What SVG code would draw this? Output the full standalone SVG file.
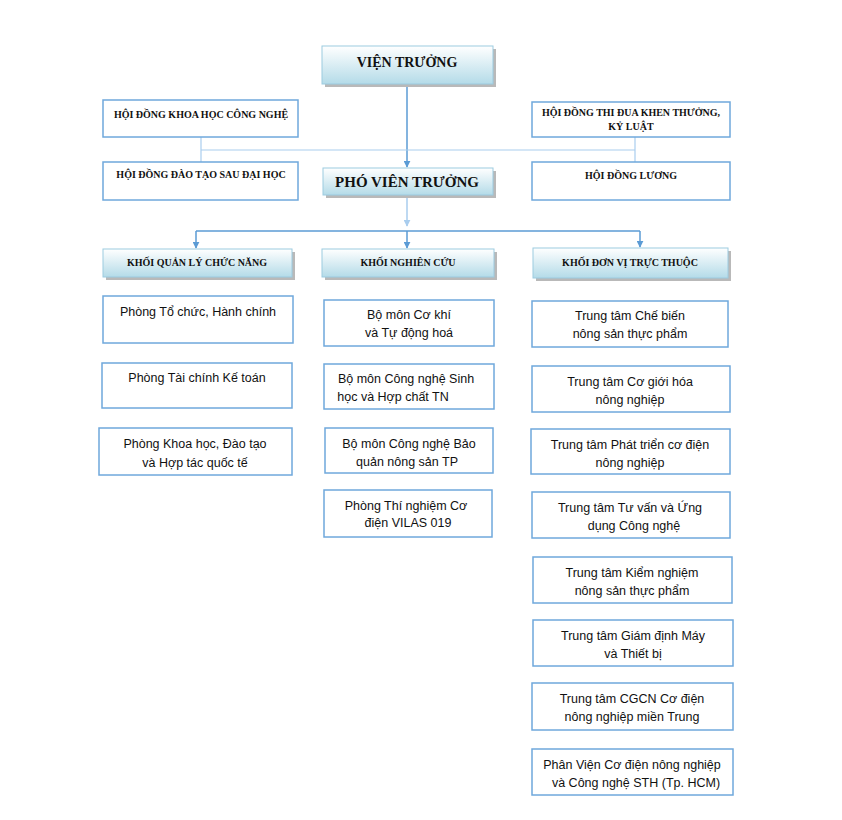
<svg xmlns="http://www.w3.org/2000/svg" width="842" height="820" viewBox="0 0 842 820">
<defs>
<linearGradient id="hg" x1="0" y1="0" x2="0" y2="1">
<stop offset="0" stop-color="#ffffff"/>
<stop offset="1" stop-color="#b4dbe8"/>
</linearGradient>
<marker id="ar" viewBox="0 0 10 10" refX="9" refY="5" markerWidth="7" markerHeight="7" orient="auto" markerUnits="userSpaceOnUse">
<path d="M0,0 L10,5 L0,10 z" fill="#5b9bd5"/>
</marker>
<marker id="arl" viewBox="0 0 10 10" refX="9" refY="5" markerWidth="7" markerHeight="7" orient="auto" markerUnits="userSpaceOnUse">
<path d="M0,0 L10,5 L0,10 z" fill="#a9cdee"/>
</marker>
</defs>
<style>
.hd{fill:url(#hg);stroke:#9ccbe0;stroke-width:1}
.sh{fill:#b9b9b9}
.bx{fill:#ffffff;stroke:#6fa8dc;stroke-width:1.5}
.ht{font-family:"Liberation Serif",serif;font-weight:bold;fill:#111;text-anchor:middle}
.bt{font-family:"Liberation Sans",sans-serif;font-size:12.5px;fill:#111;text-anchor:middle}
.ln{stroke:#5b9bd5;stroke-width:1.5;fill:none}
.ll{stroke:#a9cdee;stroke-width:1.5;fill:none}
.lp{stroke:#a9cdee;stroke-width:1.2;fill:none}
</style>
<rect width="842" height="820" fill="#ffffff"/>
<g id="connectors">
<line class="ln" x1="407" y1="84" x2="407" y2="167" marker-end="url(#ar)"/>
<line class="lp" x1="201" y1="150" x2="635" y2="150"/>
<line class="lp" x1="201" y1="137" x2="201" y2="162"/>
<line class="lp" x1="635" y1="137" x2="635" y2="162"/>
<line class="ll" x1="407" y1="196" x2="407" y2="226" marker-end="url(#arl)"/>
<line class="ln" x1="196" y1="231" x2="640" y2="231"/>
<line class="ln" x1="196" y1="231" x2="196" y2="248" marker-end="url(#ar)"/>
<line class="ln" x1="407" y1="231" x2="407" y2="248" marker-end="url(#ar)"/>
<line class="ln" x1="640" y1="231" x2="640" y2="247" marker-end="url(#ar)"/>
</g>
<g id="vien-truong">
<rect class="sh" x="325" y="49" width="171" height="38"/>
<rect class="hd" x="322" y="46" width="171" height="38"/>
<text class="ht" x="407" y="67" font-size="14">VIỆN TRƯỞNG</text>
</g>
<g id="hd-khcn">
<rect class="bx" x="103" y="100" width="195" height="37"/>
<text class="ht" x="201" y="118" font-size="10">HỘI ĐỒNG KHOA  HỌC CÔNG NGHỆ</text>
</g>
<g id="hd-daotao">
<rect class="bx" x="103" y="162" width="195" height="38"/>
<text class="ht" x="201" y="178" font-size="10">HỘI ĐỒNG ĐÀO TẠO SAU ĐẠI HỌC</text>
</g>
<g id="hd-thidua">
<rect class="bx" x="532" y="102" width="198" height="35"/>
<text class="ht" x="631" y="116" font-size="10">HỘI ĐỒNG THI ĐUA KHEN THƯỞNG,</text>
<text class="ht" x="631" y="130" font-size="10">KỶ LUẬT</text>
</g>
<g id="hd-luong">
<rect class="bx" x="532" y="162" width="198" height="38"/>
<text class="ht" x="631" y="179" font-size="10">HỘI ĐỒNG LƯƠNG</text>
</g>
<g id="pho-vien-truong">
<rect class="sh" x="326" y="171" width="170" height="27"/>
<rect class="hd" x="323" y="168" width="170" height="27"/>
<text class="ht" x="407" y="187" font-size="15">PHÓ VIÊN TRƯỞNG</text>
</g>
<g id="khoi-quanly">
<rect class="sh" x="106" y="252" width="189" height="28"/>
<rect class="hd" x="103" y="249" width="189" height="28"/>
<text class="ht" x="197" y="266" font-size="10">KHỐI QUẢN LÝ CHỨC NĂNG</text>
</g>
<g id="khoi-nghiencuu">
<rect class="sh" x="325" y="252" width="172" height="28"/>
<rect class="hd" x="322" y="249" width="172" height="28"/>
<text class="ht" x="408" y="266" font-size="10">KHỐI NGHIÊN CỨU</text>
</g>
<g id="khoi-donvi">
<rect class="sh" x="536" y="251" width="195" height="30"/>
<rect class="hd" x="533" y="248" width="195" height="30"/>
<text class="ht" x="630" y="266" font-size="10">KHỐI ĐƠN VỊ TRỰC THUỘC</text>
</g>
<g id="ql1"><rect class="bx" x="103" y="296" width="190" height="47"/><text class="bt" x="198" y="316">Phòng Tổ chức, Hành chính</text></g>
<g id="ql2"><rect class="bx" x="102" y="363" width="190" height="45"/><text class="bt" x="197" y="382">Phòng Tài chính Kế toán</text></g>
<g id="ql3"><rect class="bx" x="99" y="428" width="193" height="47"/><text class="bt" x="195" y="448">Phòng Khoa học, Đào tạo</text><text class="bt" x="195" y="467">và Hợp tác quốc tế</text></g>
<g id="nc1"><rect class="bx" x="324" y="300" width="170" height="46"/><text class="bt" x="409" y="319">Bộ môn Cơ khí</text><text class="bt" x="409" y="337">và Tự động hoá</text></g>
<g id="nc2"><rect class="bx" x="324" y="364" width="170" height="45"/><text class="bt" x="406" y="383">Bộ môn Công nghệ Sinh</text><text class="bt" x="393" y="401">học và Hợp chất TN</text></g>
<g id="nc3"><rect class="bx" x="325" y="428" width="168" height="45"/><text class="bt" x="409" y="448">Bộ môn Công nghệ Bảo</text><text class="bt" x="407" y="466">quản nông sản TP</text></g>
<g id="nc4"><rect class="bx" x="324" y="490" width="168" height="47"/><text class="bt" x="406" y="510">Phòng Thí nghiệm Cơ</text><text class="bt" x="408" y="527">điện VILAS 019</text></g>
<g id="dv1"><rect class="bx" x="532" y="301" width="196" height="46"/><text class="bt" x="630" y="320">Trung tâm Chế biến</text><text class="bt" x="630" y="338">nông sản thực phẩm</text></g>
<g id="dv2"><rect class="bx" x="532" y="366" width="198" height="46"/><text class="bt" x="630" y="386">Trung tâm Cơ giới hóa</text><text class="bt" x="630" y="404">nông nghiệp</text></g>
<g id="dv3"><rect class="bx" x="531" y="429" width="199" height="45"/><text class="bt" x="630" y="449">Trung tâm Phát triển cơ điện</text><text class="bt" x="630" y="467">nông nghiệp</text></g>
<g id="dv4"><rect class="bx" x="532" y="492" width="198" height="46"/><text class="bt" x="630" y="512">Trung tâm Tư vấn và Ứng</text><text class="bt" x="634" y="530">dụng Công nghệ</text></g>
<g id="dv5"><rect class="bx" x="533" y="557" width="199" height="46"/><text class="bt" x="632" y="577">Trung tâm Kiểm nghiệm</text><text class="bt" x="632" y="595">nông sản thực phẩm</text></g>
<g id="dv6"><rect class="bx" x="533" y="620" width="200" height="46"/><text class="bt" x="633" y="640">Trung tâm Giám định Máy</text><text class="bt" x="633" y="658">và Thiết bị</text></g>
<g id="dv7"><rect class="bx" x="532" y="683" width="201" height="47"/><text class="bt" x="632" y="703">Trung tâm CGCN Cơ điện</text><text class="bt" x="632" y="721">nông nghiệp miền Trung</text></g>
<g id="dv8"><rect class="bx" x="532" y="749" width="201" height="46"/><text class="bt" x="632" y="769">Phân Viện Cơ điện nông nghiệp</text><text class="bt" x="636" y="787">và Công nghệ STH (Tp. HCM)</text></g>
</svg>
